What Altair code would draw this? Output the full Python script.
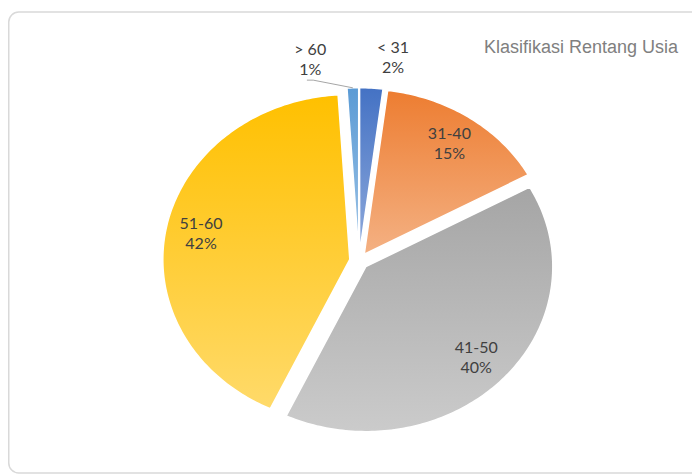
import math
import altair as alt
import pandas as pd

# ---- data ----
categories = ["< 31", "31-40", "41-50", "51-60", "> 60"]
percent = [2, 15, 40, 42, 1]
percent_labels = ["2%", "15%", "40%", "42%", "1%"]
title_text = "Klasifikasi Rentang Usia"

# ---- layout / style ----
W, H = 684, 466
CX, CY = 351, 253          # pie centre (px)
RX, RY = 187, 165          # pie radii (px) - the picture is stretched horizontally
EXPLODE = 0.05
INSIDE_R = 0.81
OUTSIDE_R = 1.245
outside_nudge = {"< 31": 4.8, "> 60": -10.3}   # degrees, label spreading
with_leader = {"> 60"}
top_colors = {"< 31": "#4472C4", "31-40": "#ED7D31", "41-50": "#A5A5A5",
              "51-60": "#FFC000", "> 60": "#5B9BD5"}
bottom_colors = {"< 31": "#8FAADC", "31-40": "#F4B183", "41-50": "#CBCBCB",
                 "51-60": "#FFDA6A", "> 60": "#9DC3E6"}

total = sum(percent)
rows, lab_rows, lead_rows = [], [], []
cum = 0
for cat, p, pl in zip(categories, percent, percent_labels):
    a0 = cum / total * 2 * math.pi
    a1 = (cum + p) / total * 2 * math.pi
    cum += p
    m = (a0 + a1) / 2
    ox, oy = EXPLODE * math.sin(m), EXPLODE * math.cos(m)
    rows.append(dict(cat=cat, idx=0, u=ox, v=oy))
    n = max(3, int(math.degrees(a1 - a0)) + 1)
    for k in range(n + 1):
        t = a0 + (a1 - a0) * k / n
        rows.append(dict(cat=cat, idx=k + 1, u=ox + math.sin(t), v=oy + math.cos(t)))
    if p >= 5:
        lu, lv = ox + INSIDE_R * math.sin(m), oy + INSIDE_R * math.cos(m)
    else:
        la = m + math.radians(outside_nudge.get(cat, 0))
        lu, lv = OUTSIDE_R * math.sin(la), OUTSIDE_R * math.cos(la)
    lab_rows.append(dict(cat=cat, lu=lu, lv=lv, txt=cat + "\n" + pl))
    if cat in with_leader:
        pts = [(lu - 3.3 / RX, lv - 20 / RY), (lu + 3 / RX, lv - 20 / RY),
               (ox + math.sin(m), oy + math.cos(m))]
        for i, (a, b) in enumerate(pts):
            lead_rows.append(dict(cat=cat, idx=i, u=a, v=b))

slices = pd.DataFrame(rows)
labels = pd.DataFrame(lab_rows)
leaders = pd.DataFrame(lead_rows)

xs = alt.Scale(domain=[-CX / RX, (W - CX) / RX], nice=False, zero=False)
ys = alt.Scale(domain=[(CY - H) / RY, CY / RY], nice=False, zero=False)

border = alt.Chart(pd.DataFrame({"a": [0]})).mark_rect(
    fill="white", stroke="#D9D9D9", strokeWidth=1.5, cornerRadius=10
).encode(x=alt.value(0.75), x2=alt.value(W + 30), y=alt.value(4), y2=alt.value(H - 1))

layers = [border]
for cat in categories:
    grad = alt.LinearGradient(
        gradient="linear", x1=0, y1=0, x2=0, y2=1,
        stops=[alt.GradientStop(color=top_colors[cat], offset=0),
               alt.GradientStop(color=bottom_colors[cat], offset=1)])
    layers.append(
        alt.Chart(slices).transform_filter(alt.datum.cat == cat).mark_line(
            interpolate="linear-closed", fill=grad, stroke="white", strokeWidth=1.5
        ).encode(
            x=alt.X("u:Q", scale=xs, axis=None),
            y=alt.Y("v:Q", scale=ys, axis=None),
            order="idx:Q",
        )
    )

layers.append(
    alt.Chart(leaders).mark_line(color="#A6A6A6", strokeWidth=1).encode(
        x=alt.X("u:Q", scale=xs, axis=None),
        y=alt.Y("v:Q", scale=ys, axis=None),
        order="idx:Q", detail="cat:N",
    )
)
layers.append(
    alt.Chart(labels).mark_text(
        lineBreak="\n", font="Lato", fontSize=16, lineHeight=20,
        color="#404040", align="center", baseline="middle", dy=-10
    ).encode(
        x=alt.X("lu:Q", scale=xs, axis=None),
        y=alt.Y("lv:Q", scale=ys, axis=None),
        text="txt:N",
    )
)
layers.append(
    alt.Chart(pd.DataFrame({"t": [title_text]})).mark_text(
        font="Liberation Sans", fontSize=18, color="#808080",
        align="right", baseline="alphabetic"
    ).encode(x=alt.value(670), y=alt.value(45), text="t:N")
)

chart = alt.layer(*layers).properties(
    width=W, height=H, padding=0, autosize="none", background="white"
).configure_view(stroke=None)

chart.save("out.html", embed_options={"renderer": "svg", "actions": False})
